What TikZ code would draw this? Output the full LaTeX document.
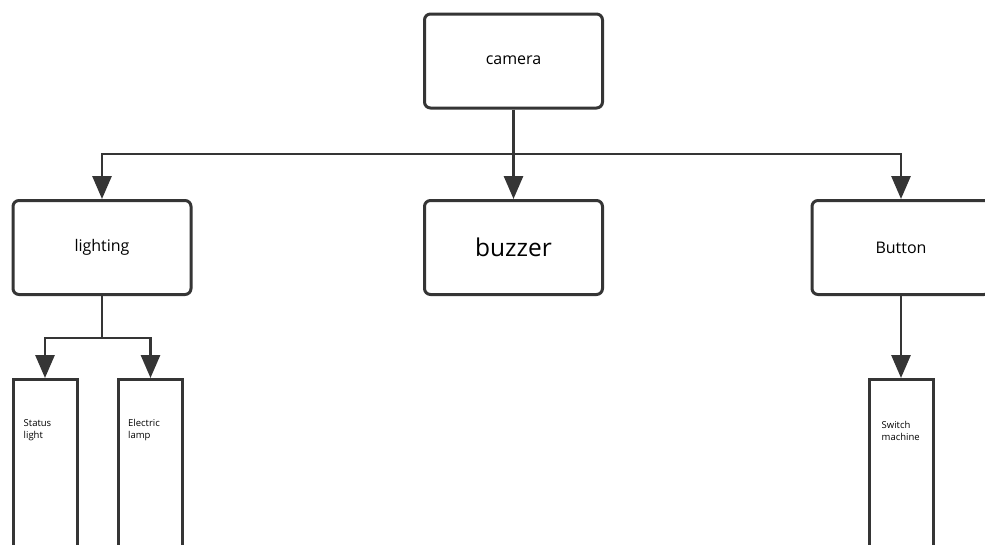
\documentclass[tikz,border=0pt]{standalone}
\usepackage{fontspec}
\setmainfont{Open Sans}
\usetikzlibrary{arrows.meta,calc}
\definecolor{ink}{HTML}{353535}
\tikzset{
  topbox/.style={draw=ink, line width=3pt, rounded corners=6pt, fill=white,
    minimum width=178pt, minimum height=94pt, inner sep=0pt, text=black},
  tallbox/.style={draw=ink, line width=3pt, fill=white,
    minimum width=64pt, minimum height=190pt, inner sep=0pt},
  conn/.style={draw=ink, line width=2.9pt},
  arr/.style={conn, -{Triangle[length=23pt,width=19pt]}},
  small/.style={anchor=north west, align=left, inner sep=0pt,
    font=\fontsize{9.5}{12.5}\selectfont, text=black},
}
\begin{document}
\begin{tikzpicture}[x=1pt,y=-1pt]
\useasboundingbox (0,0) rectangle (985,544);
\clip (0,0) rectangle (985,544);
\fill[white] (0,0) rectangle (985,544);

\node[topbox, font=\fontsize{16}{18}\selectfont] (cam) at (513.5,61) {\raisebox{2pt}{camera}};
\node[topbox, font=\fontsize{16}{18}\selectfont] (light) at (102,247.5) {\raisebox{4pt}{lighting}};
\node[topbox, font=\fontsize{24.5}{26}\selectfont] (buz) at (513.5,247.5) {buzzer};
\node[topbox, font=\fontsize{16}{18}\selectfont] (btn) at (901,247.5) {Button};

\node[tallbox, anchor=north] (sl) at (45,378) {};
\node[tallbox, anchor=north] (el) at (150.5,378) {};
\node[tallbox, anchor=north] (sm) at (901,378) {};

\node[small] (slt) at ([xshift=12pt,yshift=-41pt]sl.north west) {Status\\light};
\node[small] (elt) at ([xshift=11pt,yshift=-41pt]el.north west) {Electric\\lamp};
\node[small] (smt) at ([xshift=14pt,yshift=-43pt]sm.north west) {Switch\\machine};

\coordinate (split) at (513.5,154);
\coordinate (lsplit) at (102,338);

\draw[conn] (cam.south) -- (split);
\draw[arr] (split) -- (buz.north);
\draw[arr] (split) -| (light.north);
\draw[arr] (split) -| (btn.north);

\draw[conn] (light.south) -- (lsplit);
\draw[arr] (lsplit) -| (sl.north);
\draw[arr] (lsplit) -| (el.north);

\draw[arr] (btn.south) -- (sm.north);
\end{tikzpicture}
\end{document}
